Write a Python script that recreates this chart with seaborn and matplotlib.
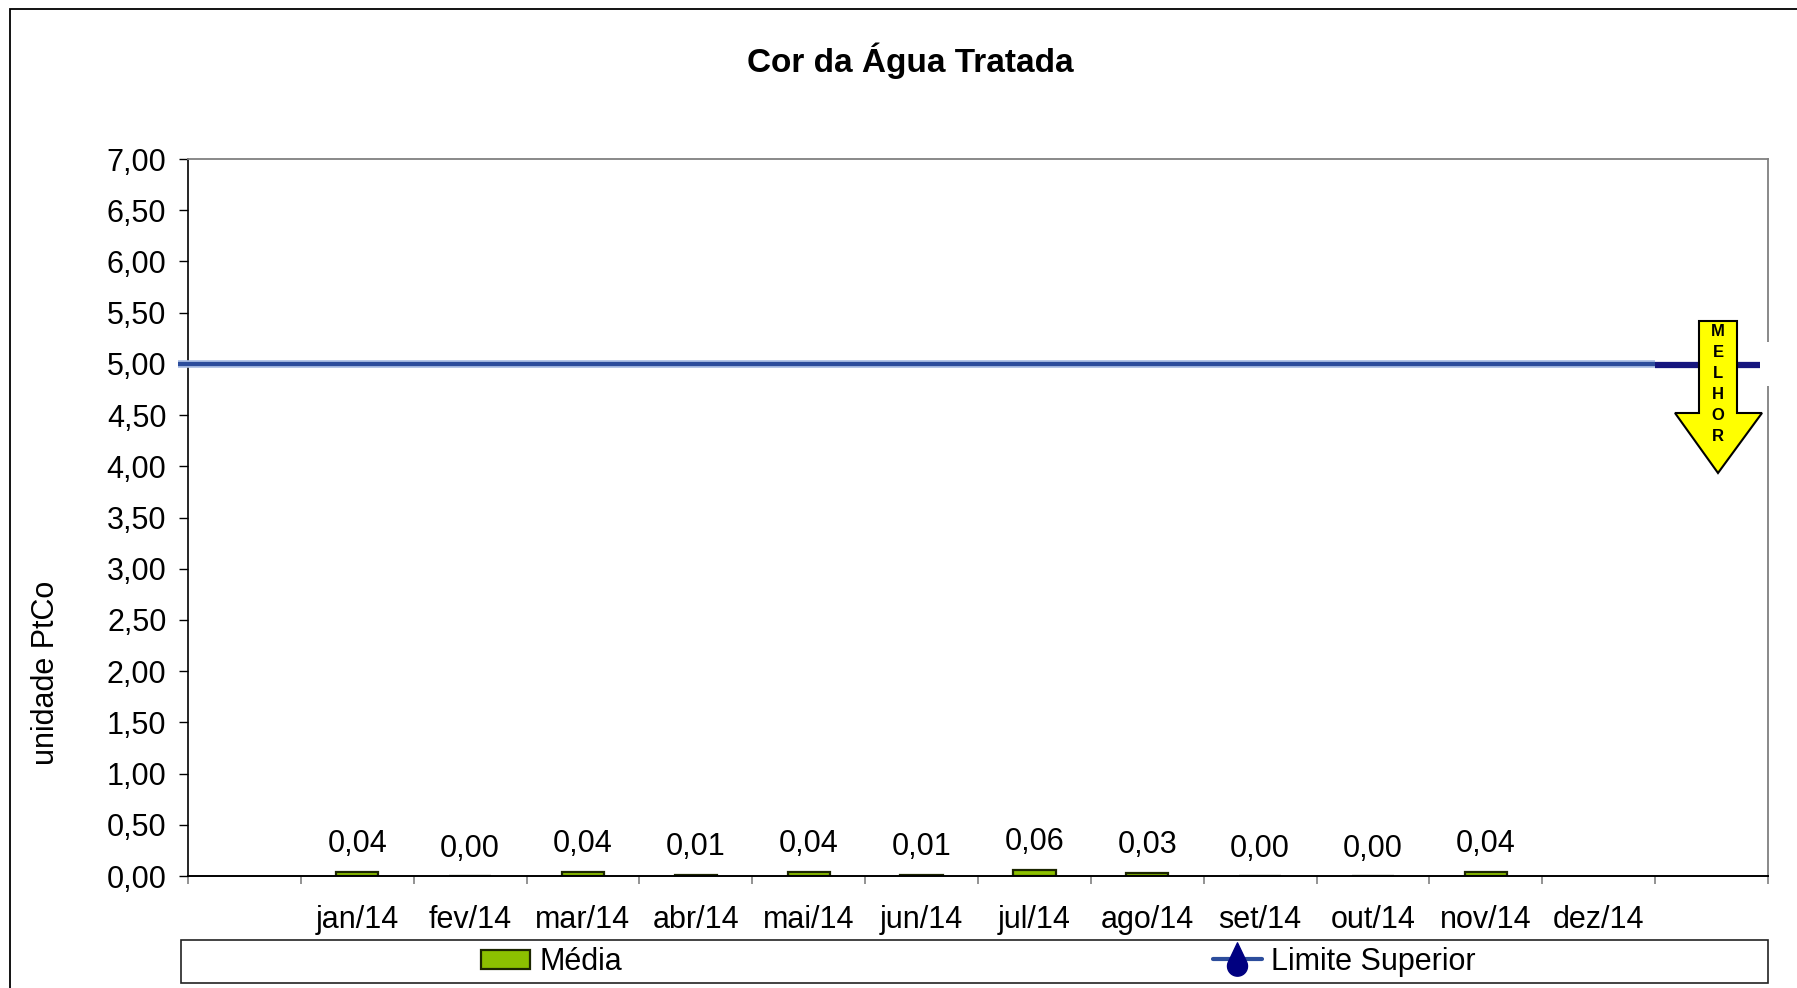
import numpy as np
import pandas as pd
import matplotlib
matplotlib.use("Agg")
import matplotlib.pyplot as plt
import seaborn as sns
from matplotlib.patches import Rectangle, Polygon, Patch
from matplotlib.lines import Line2D
from matplotlib.path import Path
import matplotlib.patheffects as pe

# ---------------- data ----------------
months = ["jan/14", "fev/14", "mar/14", "abr/14", "mai/14", "jun/14",
          "jul/14", "ago/14", "set/14", "out/14", "nov/14", "dez/14"]
media = [0.04, 0.00, 0.04, 0.01, 0.04, 0.01, 0.06, 0.03, 0.00, 0.00, 0.04, np.nan]
limite = [5.00, 5.00, 5.00, 5.00, 5.00, 5.00, 5.00, 5.00, 5.00, 5.00, 5.00, 5.00]
yticks = [0.0, 0.5, 1.0, 1.5, 2.0, 2.5, 3.0, 3.5, 4.0, 4.5, 5.0, 5.5, 6.0, 6.5, 7.0]
title = "Cor da Água Tratada"
ylabel = "unidade PtCo"
arrow_text = "MELHOR"

# category slots: an empty slot on each side, as in the original chart
slots = [" "] + months + ["  "]
df = pd.DataFrame({"mes": months, "media": media})

# ---------------- style ----------------
sns.set_style("white")
plt.rcParams["font.family"] = ["Liberation Sans", "DejaVu Sans"]
plt.rcParams["text.color"] = "black"
plt.rcParams["axes.labelcolor"] = "black"
plt.rcParams["xtick.color"] = "black"
plt.rcParams["ytick.color"] = "black"

W, H = 1797, 988
fig = plt.figure(figsize=(W / 100, H / 100), dpi=100)
fig.patch.set_facecolor("white")

def fx(x):
    return x / W

def fy(y):
    return 1 - y / H

ax = fig.add_axes([fx(188), fy(876), fx(1768) - fx(188), fy(159) - fy(876)])

bar_face = "#8cc000"
bar_edge = "#1c2600"
sns.barplot(data=df, x="mes", y="media", order=slots, width=0.375,
            color=bar_face, saturation=1, edgecolor=bar_edge, linewidth=1.6,
            errorbar=None, ax=ax)

ax.set_xlim(-0.5, len(slots) - 0.5)
ax.set_ylim(0, 7)

FS = 22

# value labels
for i, v in enumerate(media):
    if not np.isnan(v):
        ax.annotate(f"{v:.2f}".replace(".", ","), (i + 1, v), xytext=(0, 9),
                    textcoords="offset points", ha="center", va="bottom",
                    fontsize=FS, color="black")

# limit line
line_col = "#2c4d9c"
ax.plot([-0.59, len(months) + 0.5], [limite[0], limite[-1]], color=line_col, lw=3,
        solid_capstyle="butt", clip_on=False, zorder=5,
        path_effects=[pe.Stroke(linewidth=5.5, foreground="#a9bde3"), pe.Normal()])
ax.plot([len(months) + 0.5, len(months) + 1.43], [limite[-1] - 0.01, limite[-1] - 0.01],
        color="#16167e", lw=4.5, solid_capstyle="butt", clip_on=False, zorder=5)

# axes formatting
ax.set_yticks(yticks)
ax.set_yticklabels([f"{t:.2f}".replace(".", ",") for t in yticks])
ax.set_xticks(range(len(slots)))
ax.set_xticklabels(slots)
ax.set_xticks(np.arange(-0.5, len(slots), 1.0), minor=True)
ax.tick_params(axis="y", length=6.5, width=1, color="black", pad=9,
               labelsize=FS, labelcolor="black", left=True, direction="out")
ax.tick_params(axis="x", which="major", length=0, pad=21, labelsize=FS,
               labelcolor="black")
ax.tick_params(axis="x", which="minor", length=6, width=1.2, color="#808080",
               bottom=True, direction="out")
ax.set_xlabel("")
ax.set_ylabel("")
for s in ["top", "right"]:
    ax.spines[s].set_color("#808080")
    ax.spines[s].set_linewidth(1.3)
ax.spines["left"].set_color("black")
ax.spines["left"].set_linewidth(1.2)
ax.spines["bottom"].set_color("black")
ax.spines["bottom"].set_linewidth(1.4)
ax.grid(False)

# title and y label
fig.text(fx(910), fy(61), title, ha="center", va="center", fontsize=24,
         fontweight="bold", color="black")
fig.text(fx(46), fy(673), ylabel, ha="center", va="center", rotation=90,
         fontsize=FS, color="black")

# outer chart border
fig.add_artist(Rectangle((fx(10), -0.05), 1.1, fy(9) + 0.05, transform=fig.transFigure,
                         fill=False, edgecolor="black", lw=1.3))

# "MELHOR" arrow
fig.add_artist(Rectangle((fx(1762), fy(386)), fx(14), fy(342) - fy(386),
                         transform=fig.transFigure, facecolor="white",
                         edgecolor="none", zorder=9))
arrow_pts = [(1699, 321), (1737, 321), (1737, 413), (1762, 413), (1718, 473),
             (1675, 413), (1699, 413)]
fig.add_artist(Polygon([(fx(x), fy(y)) for x, y in arrow_pts], closed=True,
                       transform=fig.transFigure, facecolor="#ffff00",
                       edgecolor="black", lw=1.5, zorder=10))
for k, ch in enumerate(arrow_text):
    fig.text(fx(1718), fy(332 + k * 20.8), ch, ha="center", va="center",
             fontsize=12, fontweight="bold", color="black", zorder=11)

# legend box
fig.add_artist(Rectangle((fx(181), fy(983)), fx(1768) - fx(181), fy(940) - fy(983),
                         transform=fig.transFigure, fill=False, edgecolor="#222222",
                         lw=1.2))

# drop-shaped marker
r, cy, apex = 0.45, -0.3, 0.75
alpha = np.degrees(np.arccos(r / (apex - cy)))
th = np.radians(np.linspace(90 - alpha, -270 + alpha, 40))
verts = [(0, apex)] + [(r * np.cos(t), cy + r * np.sin(t)) for t in th] + [(0, apex)]
codes = [Path.MOVETO] + [Path.LINETO] * (len(verts) - 2) + [Path.CLOSEPOLY]
drop = Path(verts, codes)

h1 = Patch(facecolor=bar_face, edgecolor=bar_edge, lw=1.6, label="Média")
h2 = Line2D([], [], color=line_col, lw=3, marker=drop, markersize=24,
            markerfacecolor="#000080", markeredgecolor="#000080",
            label="Limite Superior")
fig.legend(handles=[h1], loc="center left", bbox_to_anchor=(fx(481), fy(962)),
           frameon=False, fontsize=FS, handlelength=1.6, handleheight=0.6,
           handletextpad=0.3, borderpad=0, borderaxespad=0, labelcolor="black")
fig.legend(handles=[h2], loc="center left", bbox_to_anchor=(fx(1213), fy(962)),
           frameon=False, fontsize=FS, handlelength=1.6,
           handletextpad=0.3, borderpad=0, borderaxespad=0, labelcolor="black")

fig.savefig("out.png", dpi=100, facecolor="white")
